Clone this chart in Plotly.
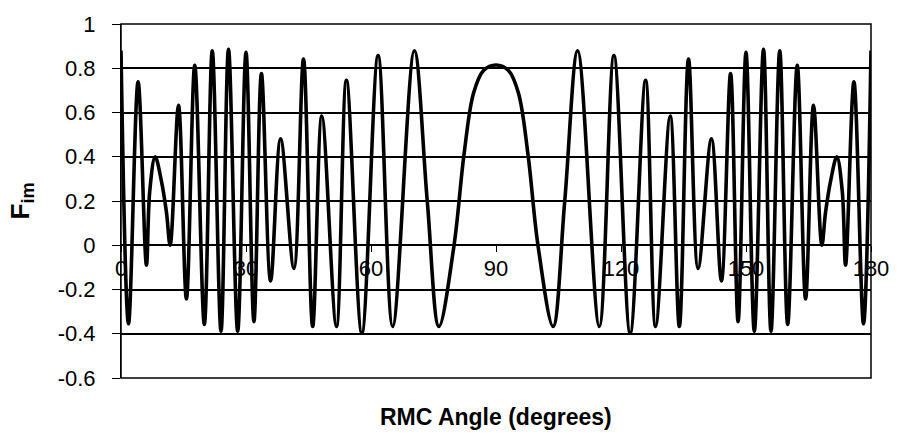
import plotly.graph_objects as go

# RMC angle (degrees) and F_im values (extrema + a few shape points)
angle_deg = [
    0.0, 1.8, 4.1, 6.1, 6.9, 8.2, 9.7, 10.9, 11.8, 13.8, 15.7, 17.7, 20.0, 21.9, 24.0,
    25.8, 28.0, 30.0, 31.9, 33.7, 35.9, 38.3, 41.5, 43.8, 46.0, 48.2, 51.7, 54.1,
    57.8, 61.7, 65.2, 70.4, 73.5, 76.3, 79.9, 82.3, 84.6, 87.0, 90.0,
    93.0, 95.4, 97.7, 100.1, 103.7, 106.5, 109.6, 114.8, 118.3, 122.2, 125.9, 128.3,
    131.8, 134.0, 136.2, 138.5, 141.7, 144.1, 146.3, 148.1, 150.0, 152.0, 154.2,
    156.0, 158.1, 160.0, 162.3, 164.3, 166.2, 168.2, 169.1, 170.3, 171.8, 173.1,
    173.9, 175.9, 178.2, 180.0,
]
f_im = [
    0.88, -0.355, 0.739, -0.09, 0.245, 0.40, 0.29, 0.15, 0.0, 0.632, -0.242, 0.813,
    -0.358, 0.879, -0.389, 0.886, -0.389, 0.872, -0.345, 0.776, -0.161, 0.481,
    -0.105, 0.842, -0.367, 0.584, -0.367, 0.746, -0.397, 0.857, -0.367, 0.879,
    0.20, -0.367, -0.004, 0.407, 0.687, 0.79, 0.815,
    0.79, 0.687, 0.407, -0.004, -0.367, 0.20, 0.879, -0.367, 0.857, -0.397, 0.746,
    -0.367, 0.584, -0.367, 0.842, -0.105, 0.481, -0.161, 0.776, -0.345, 0.872,
    -0.389, 0.886, -0.389, 0.879, -0.358, 0.813, -0.242, 0.632, 0.0, 0.15, 0.29,
    0.40, 0.245, -0.09, 0.739, -0.355, 0.88,
]

x_ticks = [0, 30, 60, 90, 120, 150, 180]
y_ticks = [-0.6, -0.4, -0.2, 0, 0.2, 0.4, 0.6, 0.8, 1]
y_tick_labels = ["-0.6", "-0.4", "-0.2", "0", "0.2", "0.4", "0.6", "0.8", "1"]

x_title = "RMC Angle (degrees)"
y_title = "F<sub>im</sub>"

FONT = "Liberation Sans, Arial, sans-serif"

fig = go.Figure()
fig.add_trace(go.Scatter(
    x=angle_deg, y=f_im, mode="lines",
    line=dict(color="black", width=3.6, shape="spline", smoothing=1.0),
    showlegend=False, hoverinfo="skip",
))

y_min, y_max = -0.6, 1.0
zero_pos = (0 - y_min) / (y_max - y_min)

fig.update_layout(
    width=901, height=438,
    margin=dict(l=121, r=23, t=16, b=60),
    paper_bgcolor="white", plot_bgcolor="white",
    font=dict(family=FONT, size=22, color="black"),
    xaxis=dict(
        range=[0, 180], tickvals=x_ticks, ticktext=[str(v) for v in x_ticks],
        anchor="free", position=zero_pos, side="bottom",
        showgrid=False, zeroline=False, showline=False,
        ticks="outside", ticklen=6, tickwidth=1, tickcolor="black",
        tickfont=dict(family=FONT, size=22, color="black"),
        ticklabelstandoff=-3,
    ),
    yaxis=dict(
        range=[y_min, y_max], tickvals=y_ticks, ticktext=y_tick_labels,
        showgrid=True, gridcolor="black", gridwidth=1.5,
        zeroline=False, showline=True, linecolor="black", linewidth=1,
        ticks="outside", ticklen=8, tickwidth=1, tickcolor="black",
        tickfont=dict(family=FONT, size=22, color="black"),
        ticklabelstandoff=12,
    ),
    shapes=[dict(type="rect", xref="paper", yref="paper", x0=0, y0=0, x1=1, y1=1,
                 line=dict(color="black", width=1.5), layer="above")],
    annotations=[
        dict(text="<b>" + x_title + "</b>", xref="paper", yref="paper", x=0.5, y=-0.11,
             xanchor="center", yanchor="middle", showarrow=False,
             font=dict(family=FONT, size=23, color="black")),
        dict(text="<b>" + y_title + "</b>", xref="paper", yref="paper", x=-0.134, y=0.5,
             xanchor="center", yanchor="middle", showarrow=False, textangle=-90,
             font=dict(family=FONT, size=26, color="black")),
    ],
)

fig.write_html("out.html")
